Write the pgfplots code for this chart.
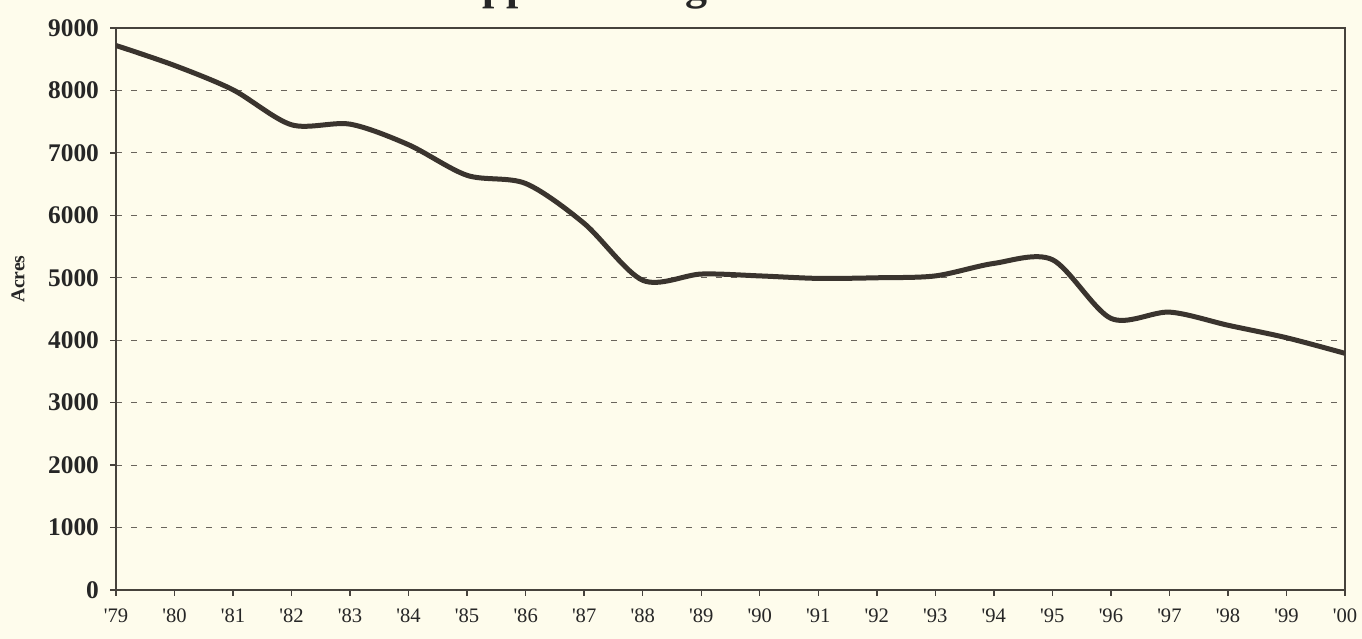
\documentclass[border=0pt]{standalone}
\usepackage{fontspec}
\setmainfont{Liberation Serif}
\usepackage{pgfplots}
\pgfplotsset{compat=1.18}
\usetikzlibrary{backgrounds}
\definecolor{bg}{RGB}{254,252,236}
\definecolor{ink}{RGB}{58,52,46}
\definecolor{axc}{RGB}{70,66,60}
\definecolor{gridc}{RGB}{105,100,92}
\pgfplotstableread{
year acres
1979 8720
1980 8400
1981 8010
1982 7450
1983 7460
1984 7130
1985 6640
1986 6510
1987 5870
1988 4960
1989 5060
1990 5030
1991 4990
1992 5000
1993 5030
1994 5230
1995 5290
1996 4350
1997 4450
1998 4240
1999 4040
2000 3790
}\datatable
\begin{document}
\begin{tikzpicture}
\begin{axis}[
  scale only axis, width=614.5pt, height=281pt,
  xmin=1979, xmax=2000, ymin=0, ymax=9000,
  xtick={1979,1980,...,2000},
  xticklabels={\textquotesingle 79,\textquotesingle 80,\textquotesingle 81,\textquotesingle 82,\textquotesingle 83,\textquotesingle 84,\textquotesingle 85,\textquotesingle 86,\textquotesingle 87,\textquotesingle 88,\textquotesingle 89,\textquotesingle 90,\textquotesingle 91,\textquotesingle 92,\textquotesingle 93,\textquotesingle 94,\textquotesingle 95,\textquotesingle 96,\textquotesingle 97,\textquotesingle 98,\textquotesingle 99,\textquotesingle 00},
  ytick={0,1000,...,9000},
  scaled y ticks=false,
  tick pos=left, tick align=outside,
  major tick length=3pt,
  tick style={axc, line width=0.7pt},
  axis line style={axc, line width=1pt},
  ymajorgrids,
  grid style={gridc, line width=0.6pt, dash pattern=on 2.8pt off 4.7pt},
  yticklabel style={font=\fontsize{12.7}{14}\selectfont\bfseries, text=black!85, xshift=-2pt,
    /pgf/number format/assume math mode=true, /pgf/number format/1000 sep={}},
  xticklabel style={font=\fontsize{10.3}{12}\selectfont, text=black!85, yshift=-3pt},
  ylabel={Acres},
  ylabel style={at={(axis description cs:-0.0797,0.553)}, anchor=center, rotate=0,
    font=\fontsize{9.8}{11}\selectfont\bfseries, text=black!85},
]
\addplot[ink, line width=2.5pt, smooth, tension=0.5] table[x=year, y=acres] {\datatable};
\coordinate (SW) at (rel axis cs:0,0);
\coordinate (NE) at (rel axis cs:1,1);
\coordinate (NW) at (rel axis cs:0,1);
\end{axis}
\node[overlay, anchor=base west, inner sep=0pt, text=black!85,
  font=\fontsize{22}{26}\selectfont\bfseries] at ([xshift=167pt,yshift=14.2pt]NW) {Apple Acreage};
\pgfresetboundingbox
\path[use as bounding box] ([xshift=-58pt,yshift=-24.5pt]SW) rectangle ([xshift=8.5pt,yshift=14pt]NE);
\begin{scope}[on background layer]
\fill[bg] ([xshift=-58pt,yshift=-24.5pt]SW) rectangle ([xshift=8.5pt,yshift=14pt]NE);
\end{scope}
\end{tikzpicture}
\end{document}
